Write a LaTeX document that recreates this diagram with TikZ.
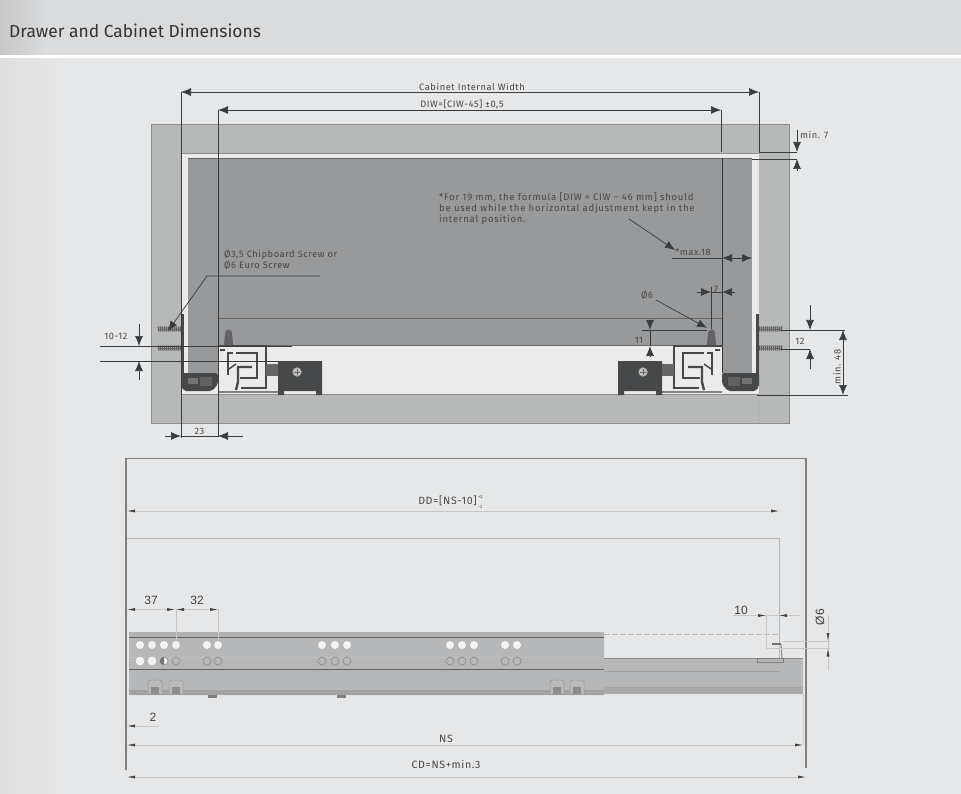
\documentclass[tikz,border=0pt]{standalone}
\usepackage{fontspec}
\setmainfont{Fira Sans}[LetterSpace=6]
\newfontfamily\plainfont{Liberation Sans}
\newfontfamily\titlefont{Fira Sans}
\usetikzlibrary{arrows.meta}
\definecolor{pagegrey}{HTML}{E6E7E8}
\definecolor{headgrey}{HTML}{DADBDC}
\definecolor{woodgrey}{HTML}{B7B8B8}
\definecolor{drawergrey}{HTML}{98999B}
\definecolor{railgrey}{HTML}{B6B7B8}
\definecolor{partdark}{HTML}{47484A}
\definecolor{inkgrey}{HTML}{3A3B3C}
\tikzset{
    panel/.style={fill=woodgrey, draw=black!45, line width=0.7pt},
    drawerpart/.style={fill=drawergrey},
    dimline/.style={draw=inkgrey, line width=0.7pt},
    bigtip/.style={dimline, >={Latex[length=10pt,width=8pt]}},
    thinline/.style={draw=black!22, line width=0.6pt},
    smalltip/.style={thinline, >={Latex[length=8pt,width=3pt,black!75]}},
    label/.style={font=\fontsize{9.3}{11}\selectfont, text=black!72, inner sep=0pt},
    sidelabel/.style={label, font=\fontsize{10.6}{12}\selectfont},
    numlabel/.style={font=\plainfont\fontsize{12}{14}\selectfont, text=black!75, inner sep=0pt},
}
\newcommand{\screwrow}[1]{
    % Thread of one screw, left of the bracket
    \begin{scope}
        \foreach \i in {158, 160, ..., 180}
            \draw[black!65, line width=1.1pt] (\i,#1-2.5) -- (\i+1,#1+2.5);
        \draw[black!60, line width=1pt] (158,#1) -- (181,#1);
    \end{scope}
}
\newcommand{\slideunit}{
    \begin{scope}
        % Bracket, foot and screws
        \screwrow{329};
        \screwrow{348};
        \fill[partdark] (181,314) rectangle (184,386);
        \fill[partdark, rounded corners=2pt] (181,373) -- (218,373) -- (218,384) -- (212,391) -- (184,391) -- (181,386) -- cycle;
        \fill[black!55] (188,378) rectangle (198,384);
        \fill[black!62] (200,377) rectangle (212,386);
        % Runner profile
        \draw[partdark, line width=1.3pt] (218,346) -- (266,346) -- (266,388) -- (241,388);
        \draw[partdark, line width=2pt] (233,353) -- (228,353) -- (228,375);
        \draw[partdark, line width=2pt] (236,353) -- (257,353) -- (257,378) -- (240,378);
        \draw[partdark, line width=2.4pt] (252,367) -- (238,367) -- (238,382) -- (236,390);
        \draw[partdark, line width=1.5pt] (229,369) -- (236,364);
        \draw[partdark, line width=1.5pt] (220,350) -- (225,350);
        \fill[black!50] (218,390.5) rectangle (280,393);
        % Pin on top of the runner
        \fill[partdark!85] (224,345) -- (225,333) arc (180:0:3.5pt) -- (233,345) -- cycle;
        % Locking clip
        \fill[black!60] (266,364) rectangle (278,376);
        \fill[partdark] (278,361) -- (322,361) -- (322,395) -- (316,395) -- (316,391) -- (284,391) -- (284,395) -- (278,395) -- cycle;
        \filldraw[fill=black!25, draw=black!45] (297,372) circle (4.5pt);
        \draw[black!60, line width=0.7pt] (294,372) -- (300,372) (297,369) -- (297,375);
    \end{scope}
}
\newcommand{\holes}[2]{
    \foreach \i in {#1}
        \filldraw[#2, line width=0.6pt] (\i,661) circle (4pt);
}
\newcommand{\clips}[2]{
    \foreach \i in {#1, #2} {
            \filldraw[fill=black!27, draw=black!42, line width=0.5pt] (\i,694) -- (\i,682) -- (\i+2,680) -- (\i+12,680) -- (\i+14,682) -- (\i+14,694) -- cycle;
            \fill[black!45] (\i+3,687) rectangle (\i+11,694);
        }
}

\begin{document}
\begin{tikzpicture}[x=1pt, y=-1pt]
    \useasboundingbox (0,0) rectangle (961,794);

    % Page and header
    \fill[pagegrey] (0,0) rectangle (961,794);
    \fill[left color=black!13, right color=pagegrey] (0,58) rectangle (65,794);
    \fill[headgrey] (0,0) rectangle (961,55);
    \fill[left color=black!22, right color=headgrey] (0,0) rectangle (45,55);
    \fill[white] (0,55) rectangle (961,58);
    \node[anchor=west, inner sep=0pt, text=black!80, font=\titlefont\fontsize{17.4}{20}\selectfont] (pagetitle) at (9,31) {Drawer and Cabinet Dimensions};

    % Cabinet
    \begin{scope}
        \fill[woodgrey] (151,124) rectangle (789,423);
        \fill[black!8] (181,153) rectangle (759,394);
        \draw[panel, fill=none] (151,124) rectangle (789,423);
        \draw[black!45, line width=0.7pt] (181,153) -- (759,153);
        \draw[black!45, line width=0.7pt] (181,394.5) -- (759,394.5);
        \draw[black!30, line width=0.7pt] (759,153) -- (759,423);
        \draw[black!30, line width=0.7pt] (181,153) -- (181,423);
    \end{scope}

    % Drawer
    \begin{scope}
        \fill[drawergrey] (188,158) rectangle (752,345);
        \fill[drawergrey] (188,345) rectangle (218,373);
        \fill[drawergrey] (722,345) rectangle (752,373);
        \draw[black!60, line width=0.7pt] (188,158.5) -- (752,158.5);
        \draw[black!60, line width=0.6pt] (218,318) -- (722,318);
        \draw[black!60, line width=0.6pt] (218,345.5) -- (722,345.5);
    \end{scope}

    % Slides on both sides
    \slideunit;
    \begin{scope}[shift={(940,0)}, xscale=-1]
        \slideunit;
    \end{scope}

    % Cabinet and drawer widths
    \draw[bigtip, <->] (181,92) -- (759,92);
    \draw[bigtip, <->] (218,110) -- (721,110);
    \draw[dimline] (181,92) -- (181,438);
    \draw[dimline] (218,110) -- (218,437);
    \draw[dimline] (759,92) -- (759,153);
    \draw[dimline] (721,110) -- (721,152);
    \draw[dimline] (722,158) -- (722,373);
    \node[label] (cabinetwidth) at (472,87) {Cabinet Internal Width};
    \node[label] (drawerwidth) at (462,104) {DIW=[CIW-45] ±0,5};

    % min. 7
    \draw[dimline] (759,152) -- (797,152);
    \draw[dimline] (752,159) -- (797,159);
    \draw[bigtip, ->] (797,130) -- (797,152);
    \draw[bigtip, ->] (797,171) -- (797,159);
    \node[label, anchor=west] (topgap) at (800,135) {min. 7};

    % Note and max.18
    \node[label, anchor=north west, align=left, font=\addfontfeature{LetterSpace=8}\fontsize{9.5}{11}\selectfont] (formula) at (439,193) {*For 19 mm, the formula [DIW = CIW − 46 mm] should\\be used while the horizontal adjustment kept in the\\internal position.};
    \draw[bigtip, ->] (629,219) -- (675,250);
    \node[label] (maxside) at (693,252) {*max.18};
    \draw[dimline] (672,258) -- (722,258);
    \draw[bigtip, <->] (722,258) -- (752,258);

    % Screw note
    \node[label, anchor=north west, align=left] (screwnote) at (224,250) {Ø3,5 Chipboard Screw or\\Ø6 Euro Screw};
    \draw[bigtip, ->] (320,276) -- (207,276) -- (168,331);

    % 10-12
    \draw[dimline] (100,346) -- (292,346);
    \draw[dimline] (100,361) -- (278,361);
    \draw[bigtip, ->] (139,324) -- (139,346);
    \draw[bigtip, ->] (139,380) -- (139,361);
    \node[label] (screwgapleft) at (116,336) {10-12};

    % 23
    \draw[bigtip, ->] (165,436) -- (181,436);
    \draw[bigtip, ->] (243,436) -- (218,436);
    \draw[dimline] (181,436) -- (218,436);
    \node[label] (sidegap) at (199.5,431) {23};

    % Pin dimensions
    \node[label] (pinsize) at (647,295) {Ø6};
    \draw[bigtip, ->] (656,300) -- (707,328);
    \draw[dimline] (711,287) -- (711,329);
    \draw[bigtip, ->] (697,292) -- (711,292);
    \draw[bigtip, ->] (735,292) -- (722,292);
    \draw[dimline] (711,292) -- (722,292);
    \node[label] (pinoffset) at (716,289) {7};
    \draw[dimline] (642,330) -- (707,330);
    \draw[bigtip, ->] (650,320) -- (650,330);
    \draw[bigtip, ->] (650,356) -- (650,346);
    \draw[dimline] (650,330) -- (650,346);
    \node[label] (pinheight) at (639,340) {11};

    % 12 and min. 48
    \draw[dimline] (781,330) -- (845,330);
    \draw[dimline] (781,349) -- (810,349);
    \draw[dimline] (757,395) -- (848,395);
    \draw[bigtip, ->] (810,305) -- (810,330);
    \draw[bigtip, ->] (810,369) -- (810,349);
    \node[label] (screwgapright) at (800,341) {12};
    \draw[bigtip, <->] (843,330) -- (843,395);
    \node[label, rotate=90] (minheight) at (837,367) {min. 48};

    % Side view frame
    \draw[black!50, line width=1.2pt] (126,770) -- (126,458.5) -- (806,458.5) -- (806,768);
    \draw[black!28, line width=1pt] (127,538) -- (779,538) -- (779,672);

    % Drawer slide, fixed and moving part
    \begin{scope}
        \fill[railgrey] (604,658) rectangle (803,694);
        \fill[black!34] (604,687) rectangle (803,694);
        \draw[black!45, line width=0.6pt] (604,658) -- (803,658);
        \draw[black!38, line width=0.6pt] (604,671) -- (779,671);
        \fill[railgrey, rounded corners=1pt] (129,632) rectangle (604,695);
        \fill[black!30] (129,632) rectangle (604,637);
        \fill[black!36] (129,690) rectangle (604,695);
        \draw[black!62, line width=0.7pt] (129,637.5) -- (604,637.5);
        \draw[black!62, line width=0.7pt] (129,669.5) -- (604,669.5);
        \draw[black!25, line width=0.4pt] (129,657.5) -- (604,657.5);
        \foreach \i in {208, 337}
            \fill[black!50] (\i,695) rectangle (\i+9,698);
        \clips{148}{169};
        \clips{550}{570};
        % Rows of holes
        \foreach \i in {140, 152, 164, 176, 207, 218, 322, 335, 347, 450, 462, 474, 505, 517}
            \fill[black!5] (\i,645) circle (4pt);
        \holes{176, 207, 218, 322, 335, 347, 450, 462, 474, 505, 517}{fill=railgrey, draw=black!45};
        \holes{140, 152}{fill=black!5, draw=black!5};
        \filldraw[fill=black!5, draw=black!45, line width=0.6pt] (164,661) circle (4pt);
        \fill[black!55] (164,657) arc (90:270:4pt) -- cycle;
        % Hook of the rear fixing
        \draw[black!28, line width=0.7pt, dash pattern=on 6pt off 2pt] (604,634) -- (779,634);
        \draw[black!50, line width=0.8pt] (757,658) rectangle (783,662);
        \fill[black!55] (772,643) rectangle (781,645);
        \draw[black!45, line width=1.1pt] (781,644) -- (782,658);
    \end{scope}

    % Side view dimensions
    \draw[smalltip, <->] (127,511) -- (779,511);
    \node[sidelabel, anchor=east] (depth) at (477,500.5) {DD=[NS-10]};
    \node[sidelabel, anchor=west, font=\fontsize{4.5}{5}\selectfont] (depthplus) at (478,497) {+2};
    \node[sidelabel, anchor=west, font=\fontsize{4.5}{5}\selectfont] (depthminus) at (478,506.5) {-2};
    \draw[thinline] (176,609) -- (176,640);
    \draw[thinline] (218,609) -- (218,640);
    \draw[smalltip, <->] (127,609.5) -- (175,609.5);
    \draw[smalltip, <->] (176,609.5) -- (218,609.5);
    \node[numlabel] (holefirst) at (151,600.5) {37};
    \node[numlabel] (holenext) at (197,600.5) {32};
    \draw[smalltip, ->] (159,726) -- (127,726);
    \node[numlabel] (frontgap) at (153,717) {2};

    \draw[thinline] (766,615.5) -- (766,648) -- (782,648);
    \draw[thinline] (733,615.5) -- (800,615.5);
    \draw[smalltip, ->] (756,615.5) -- (766,615.5);
    \draw[smalltip, ->] (789,615.5) -- (779,615.5);
    \node[numlabel] (reargap) at (741,610) {10};
    \draw[thinline] (782,641) -- (830,641);
    \draw[thinline] (782,648.5) -- (830,648.5);
    \draw[thinline] (828,615) -- (828,670);
    \draw[smalltip, ->] (828,630) -- (828,641);
    \draw[smalltip, ->] (828,659) -- (828,648.5);
    \node[numlabel, rotate=90] (holesize) at (820,617) {Ø6};

    \draw[thinline] (803,694) -- (803,745);
    \draw[smalltip, <->] (127,745) -- (803,745);
    \node[sidelabel] (slidelength) at (446,739) {NS};
    \draw[smalltip, <->] (127,777) -- (806,777);
    \node[sidelabel] (cabinetdepth) at (446,764) {CD=NS+min.3};
\end{tikzpicture}
\end{document}
